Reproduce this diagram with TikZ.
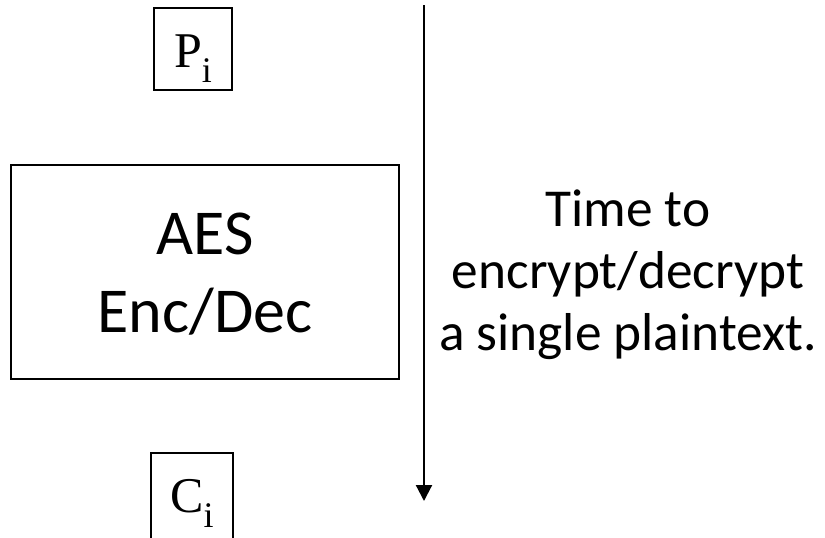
\documentclass[tikz,border=0pt]{standalone}
\usepackage{fontspec}
\setmainfont{Carlito}
\newfontfamily\serif{Liberation Serif}
\usetikzlibrary{arrows.meta}
\newcommand{\subbox}[2]{\serif\fontsize{37.5}{40}\selectfont #1\raisebox{-11pt}{\fontsize{27}{28}\selectfont #2}}

\begin{document}
\begin{tikzpicture}[x=0.75pt,y=-0.75pt,
    box/.style={draw,line width=1.4pt,inner sep=0pt},
    smallbox/.style={box,minimum width=58.5pt,text height=45pt,text depth=17pt},
    timearrow/.style={line width=1.6pt,-{Triangle[width=12pt,length=12pt]}}]
                \useasboundingbox (0,0) rectangle (825,537);
                \node[smallbox] (pin) at (193,49) {\subbox{P}{i}};
                \node[box,minimum width=291pt,text height=125.25pt,text depth=35.25pt,align=center,font=\fontsize{48}{58}\selectfont] (aes) at (205,272) {AES\\Enc/Dec};
                \node[smallbox,minimum width=61pt,text depth=20pt] (cout) at (192,496) {\subbox{C}{i}};
                \coordinate (tstart) at (424,5);
                \coordinate (tend) at (424,501);
                \draw[timearrow] (tstart)--(tend);
                \node[align=center,anchor=base,font=\fontsize{40}{46.5}\selectfont] (tlabel) at (628,350) {Time to\\encrypt/decrypt\\a single plaintext.};
            \end{tikzpicture}
\end{document}
